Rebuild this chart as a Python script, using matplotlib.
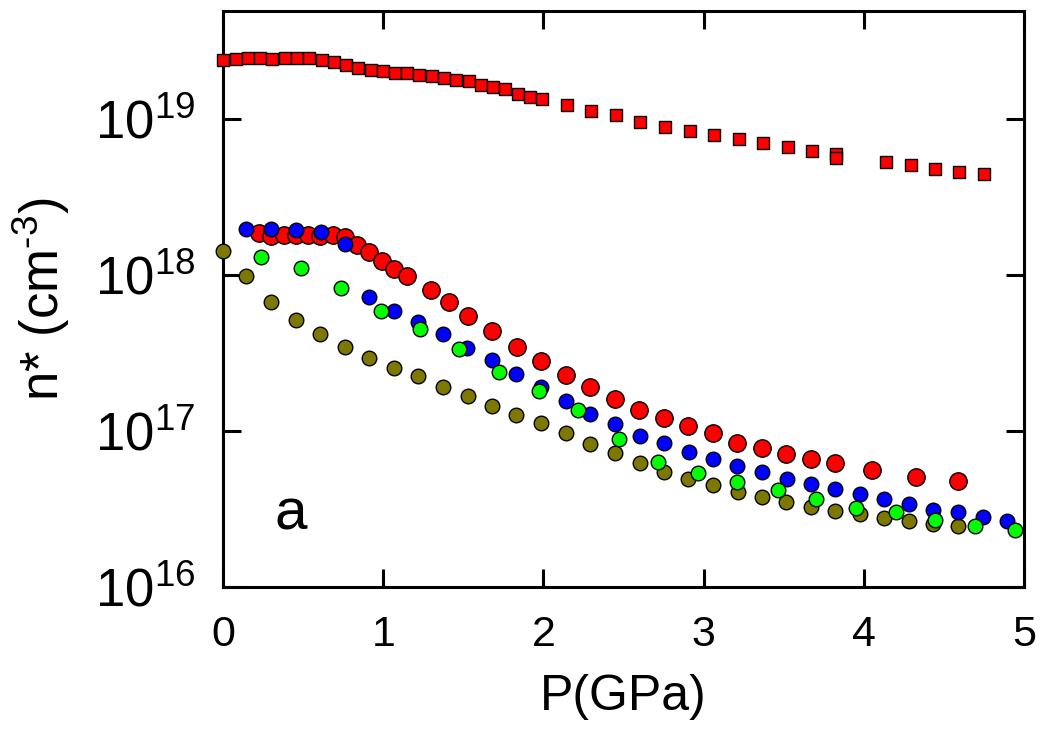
import numpy as np
import matplotlib
matplotlib.use("Agg")
import matplotlib.pyplot as plt
from matplotlib.ticker import FixedLocator, NullLocator, FuncFormatter

plt.rcParams['font.family'] = ['Liberation Sans', 'DejaVu Sans']
plt.rcParams['mathtext.fontset'] = 'custom'
plt.rcParams['mathtext.rm'] = 'Liberation Sans'
plt.rcParams['mathtext.it'] = 'Liberation Sans'

# red squares
p_sq = [0.0, 0.079, 0.156, 0.229, 0.306, 0.384, 0.459, 0.538, 0.615, 0.69,
        0.767, 0.844, 0.921, 0.996, 1.073, 1.15, 1.225, 1.304, 1.379, 1.454,
        1.533, 1.61, 1.685, 1.762, 1.839, 1.917, 1.993, 2.146, 2.3, 2.452,
        2.604, 2.758, 2.913, 3.065, 3.219, 3.371, 3.525, 3.679, 3.829, 3.829,
        4.137, 4.292, 4.444, 4.596, 4.75]
n_sq = [2.38e19, 2.43e19, 2.45e19, 2.45e19, 2.43e19, 2.45e19, 2.45e19, 2.47e19, 2.38e19, 2.31e19,
        2.20e19, 2.12e19, 2.05e19, 2.03e19, 1.98e19, 1.96e19, 1.91e19, 1.87e19, 1.82e19, 1.78e19,
        1.74e19, 1.65e19, 1.60e19, 1.55e19, 1.445e19, 1.39e19, 1.34e19, 1.22e19, 1.12e19, 1.06e19,
        9.57e18, 8.93e18, 8.34e18, 7.89e18, 7.45e18, 7.02e18, 6.59e18, 6.26e18, 5.94e18, 5.6e18,
        5.3e18, 5.09e18, 4.8e18, 4.59e18, 4.4e18]

# red circles
p_red = [0.225, 0.3025, 0.379, 0.454, 0.531, 0.604, 0.684, 0.761, 0.834, 0.911,
         0.99, 1.067, 1.146, 1.296, 1.4125, 1.5275, 1.681, 1.834, 1.986, 2.14,
         2.292, 2.446, 2.599, 2.75, 2.904, 3.059, 3.21, 3.365, 3.517, 3.671,
         3.823, 4.052, 4.323, 4.5875]
n_red = [1.85e18, 1.78e18, 1.79e18, 1.79e18, 1.80e18, 1.78e18, 1.79e18, 1.74e18, 1.55e18, 1.40e18,
         1.23e18, 1.088e18, 9.9e17, 8.0e17, 6.68e17, 5.46e17, 4.36e17, 3.44e17, 2.82e17, 2.30e17,
         1.905e17, 1.597e17, 1.363e17, 1.206e17, 1.08e17, 9.66e16, 8.34e16, 7.76e16, 7.07e16, 6.61e16,
         6.21e16, 5.62e16, 5.09e16, 4.76e16]

# blue circles
p_blue = [0.146, 0.3025, 0.454, 0.609, 0.761, 0.912, 1.068, 1.219, 1.373, 1.525,
          1.6775, 1.831, 1.986, 2.139, 2.292, 2.448, 2.6, 2.75, 2.906, 3.059,
          3.209, 3.365, 3.519, 3.671, 3.823, 3.975, 4.129, 4.281, 4.434, 4.5875,
          4.744, 4.896]
n_blue = [1.97e18, 1.98e18, 1.95e18, 1.88e18, 1.57e18, 7.2e17, 5.85e17, 5.02e17, 4.19e17, 3.39e17,
          2.85e17, 2.31e17, 1.92e17, 1.557e17, 1.28e17, 1.109e17, 9.29e16, 8.34e16, 7.37e16, 6.61e16,
          5.99e16, 5.43e16, 4.95e16, 4.57e16, 4.23e16, 3.95e16, 3.65e16, 3.40e16, 3.12e16, 3.01e16,
          2.82e16, 2.65e16]

# green circles
p_green = [0.24, 0.49, 0.7356, 0.9856, 1.229, 1.475, 1.723, 1.973, 2.219, 2.469,
           2.715, 2.9625, 3.209, 3.467, 3.704, 3.954, 4.198, 4.444, 4.692, 4.942]
n_green = [1.30e18, 1.10e18, 8.2e17, 5.9e17, 4.49e17, 3.34e17, 2.38e17, 1.81e17, 1.36e17, 8.85e16,
           6.30e16, 5.40e16, 4.73e16, 4.19e16, 3.67e16, 3.22e16, 3.01e16, 2.69e16, 2.47e16, 2.32e16]

# olive circles
p_olive = [0.0, 0.146, 0.3025, 0.454, 0.6075, 0.761, 0.9125, 1.067, 1.219, 1.375,
           1.5275, 1.681, 1.829, 1.986, 2.14, 2.292, 2.446, 2.6, 2.75, 2.904,
           3.059, 3.2125, 3.365, 3.517, 3.671, 3.823, 3.975, 4.129, 4.281, 4.434,
           4.5875]
n_olive = [1.43e18, 9.85e17, 6.67e17, 5.12e17, 4.16e17, 3.44e17, 2.95e17, 2.55e17, 2.25e17, 1.92e17,
           1.68e17, 1.446e17, 1.266e17, 1.12e17, 9.75e16, 8.25e16, 7.19e16, 6.24e16, 5.48e16, 4.90e16,
           4.51e16, 4.08e16, 3.78e16, 3.48e16, 3.24e16, 3.07e16, 2.92e16, 2.76e16, 2.66e16, 2.53e16,
           2.46e16]

x_ticks = [0, 1, 2, 3, 4, 5]
y_ticks = [1e16, 1e17, 1e18, 1e19]

fig = plt.figure(figsize=(10.41, 7.44), dpi=100)
ax = fig.add_axes([0.2142, 0.211, 0.7695, 0.774])

mk = dict(linestyle='none', markeredgecolor='black', markeredgewidth=1.0, clip_on=False)
ax.plot(p_sq, n_sq, marker='s', markersize=9.3, markerfacecolor='#ff0000', zorder=3, **mk)
ax.plot(p_red, n_red, marker='o', markersize=12.5, markerfacecolor='#ff0000', zorder=3, **mk)
ax.plot(p_olive, n_olive, marker='o', markersize=10.5, markerfacecolor='#7d7800', zorder=4, **mk)
ax.plot(p_blue, n_blue, marker='o', markersize=10.5, markerfacecolor='#0000ff', zorder=5, **mk)
ax.plot(p_green, n_green, marker='o', markersize=10.5, markerfacecolor='#00ff00', zorder=6, **mk)

ax.set_yscale('log')
ax.set_xlim(0, 5)
ax.set_ylim(1e16, 10 ** 19.69)

ax.xaxis.set_major_locator(FixedLocator(x_ticks))
ax.yaxis.set_major_locator(FixedLocator(y_ticks))
ax.yaxis.set_minor_locator(NullLocator())
ax.yaxis.set_major_formatter(FuncFormatter(
    lambda v, pos: r'$\mathregular{10^{%d}}$' % int(round(np.log10(v)))))

for s in ax.spines.values():
    s.set_linewidth(2.2)
ax.tick_params(which='major', direction='in', length=13, width=2.2,
               top=True, right=True)
ax.tick_params(axis='x', pad=20, labelsize=31)
ax.tick_params(axis='y', pad=20, labelsize=38)

ax.set_xlabel('P(GPa)', fontsize=36, labelpad=14)
ax.set_ylabel(r'n* (cm$^{\text{-3}}$)', fontsize=38, labelpad=16)

ax.text(0.32, 2.32e16, 'a', fontsize=42, ha='left', va='baseline')

fig.savefig('out.png', dpi=100)
